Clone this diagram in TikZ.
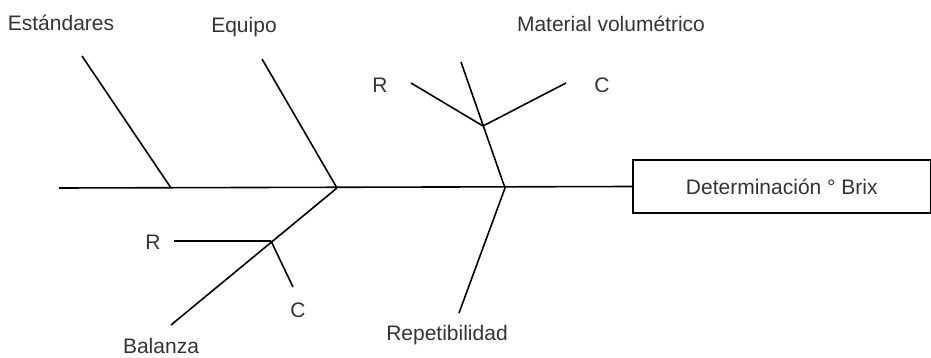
\documentclass[tikz,border=0pt]{standalone}
\usepackage{fontspec}
\setmainfont{Liberation Sans}
\tikzset{
  bone/.style={line width=1.6pt, black},
  lbl/.style={inner sep=0pt, text=black!80, font=\fontsize{21}{25}\selectfont},
  effect/.style={draw, line width=1.6pt, inner sep=0pt, minimum width=298pt, minimum height=53pt, text=black!80, font=\fontsize{21}{25}\selectfont}
}
\begin{document}
\begin{tikzpicture}[x=1pt, y=-1pt]
  \useasboundingbox (0,0) rectangle (931,358);
  % effect box and spine
  \node[effect, anchor=west] (brix) at (632,186.5) {Determinación ° Brix};
  \coordinate (tail) at (59,188);
  \coordinate (j1) at (171,188);
  \coordinate (j2) at (337,188);
  \coordinate (j3) at (505,188);
  \draw[bone] (tail) -- (brix.west);

  % Estándares
  \coordinate (est) at (82,56);
  \draw[bone] (est) -- (j1);
  \node[lbl] (lest) at (61,23) {Estándares};

  % Equipo
  \coordinate (equ) at (262,59);
  \draw[bone] (equ) -- (j2);
  \node[lbl] (lequ) at (244,27) {Equipo};

  % Balanza with sub-causes
  \coordinate (bal) at (171,325);
  \coordinate (bj) at (271,241);
  \coordinate (br) at (174,241);
  \coordinate (bc) at (293,287);
  \draw[bone] (bal) -- (j2);
  \draw[bone] (br) -- (bj);
  \draw[bone] (bj) -- (bc);
  \node[lbl] (lbal) at (161,346) {Balanza};
  \node[lbl] (lbr) at (153,242) {R};
  \node[lbl] (lbc) at (298,310) {C};

  % Material volumétrico with sub-causes
  \coordinate (mat) at (461,62);
  \coordinate (mj) at (483,126);
  \coordinate (mr) at (411,83);
  \coordinate (mc) at (566,83);
  \draw[bone] (mat) -- (j3);
  \draw[bone] (mr) -- (mj);
  \draw[bone] (mj) -- (mc);
  \node[lbl] (lmat) at (611,24) {Material volumétrico};
  \node[lbl] (lmr) at (380,85) {R};
  \node[lbl] (lmc) at (602,85) {C};

  % Repetibilidad
  \coordinate (rep) at (459,313);
  \draw[bone] (rep) -- (j3);
  \node[lbl] (lrep) at (447,335) {Repetibilidad};
\end{tikzpicture}
\end{document}
